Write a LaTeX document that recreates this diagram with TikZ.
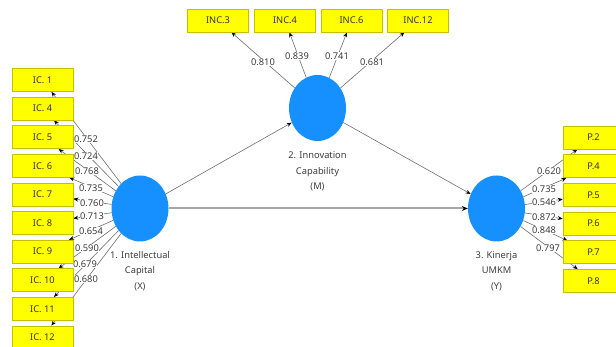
\documentclass[tikz,border=0pt]{standalone}
\usepackage{fontspec}
\setmainfont{Noto Sans}
\usetikzlibrary{shapes.geometric,arrows.meta}
\pgfdeclarelayer{bg}
\pgfdeclarelayer{lab}
\pgfsetlayers{bg,lab,main}
\definecolor{indfill}{RGB}{255,255,0}
\definecolor{inddraw}{RGB}{200,190,0}
\definecolor{lvfill}{RGB}{22,143,255}
\definecolor{txt}{RGB}{60,60,60}
\definecolor{lin}{RGB}{110,110,110}
\tikzset{
  ind/.style={rectangle, fill=indfill, draw=inddraw, line width=0.6pt,
    minimum width=61pt, minimum height=23pt, inner sep=0pt,
    font=\fontsize{9.3}{11}\selectfont, text=black!80!olive},
  lv/.style={ellipse, fill=lvfill, minimum width=57pt, minimum height=66pt, inner sep=0pt},
  lvcap/.style={align=center, font=\fontsize{9.3}{15.5}\selectfont, text=txt, inner sep=0pt},
  lbl/.style={fill=white, inner sep=0.5pt, font=\fontsize{9.3}{11}\selectfont, text=txt},
  conn/.style={draw=lin, line width=0.6pt, -{Stealth[length=5pt,width=4pt,color=black]}},
  thickconn/.style={draw=black!35, line width=2pt, -{Stealth[length=6pt,width=5pt,color=black]}}
}
\begin{document}
\begin{tikzpicture}[x=1pt,y=-1pt]
\useasboundingbox (0,0) rectangle (616,347);
\clip (0,0) rectangle (616,347);
% latent variables
\node[lv] (ic) at (140,208.5) {};
\node[lv] (inno) at (317.5,108) {};
\node[lv] (kin) at (496.5,208.5) {};
\node[lvcap] at (140,271) {1. Intellectual\\Capital\\(X)};
\node[lvcap] at (317.5,171.5) {2. Innovation\\Capability\\(M)};
\node[lvcap] at (496.5,271) {3. Kinerja\\UMKM\\(Y)};
% left indicators
\node[ind] (i1) at (42.5,80) {IC. 1};
\node[ind] (i4) at (42.5,108.6) {IC. 4};
\node[ind] (i5) at (42.5,137.2) {IC. 5};
\node[ind] (i6) at (42.5,165.8) {IC. 6};
\node[ind] (i7) at (42.5,194.4) {IC. 7};
\node[ind] (i8) at (42.5,223) {IC. 8};
\node[ind] (i9) at (42.5,251.6) {IC. 9};
\node[ind] (i10) at (42.5,280.2) {IC. 10};
\node[ind] (i11) at (42.5,308.8) {IC. 11};
\node[ind] (i12) at (42.5,337.4) {IC. 12};
% top indicators
\node[ind] (n3) at (218,20.5) {INC.3};
\node[ind] (n4) at (285,20.5) {INC.4};
\node[ind] (n6) at (351.5,20.5) {INC.6};
\node[ind] (n12) at (418,20.5) {INC.12};
% right indicators
\node[ind] (p2) at (593.5,137.5) {P.2};
\node[ind] (p4) at (593.5,166.2) {P.4};
\node[ind] (p5) at (593.5,194.9) {P.5};
\node[ind] (p6) at (593.5,223.6) {P.6};
\node[ind] (p7) at (593.5,252.3) {P.7};
\node[ind] (p8) at (593.5,281) {P.8};
\begin{pgfonlayer}{bg}
  \foreach \t in {i1,i4,i5,i6,i7,i8,i9,i10,i11,i12} \draw[conn] (ic) -- (\t);
  \foreach \t in {n3,n4,n6,n12} \draw[conn] (inno) -- (\t);
  \foreach \t in {p2,p4,p5,p6,p7,p8} \draw[conn] (kin) -- (\t);
  \draw[conn] (ic) -- (inno);
  \draw[conn] (inno) -- (kin);
  \draw[thickconn] (ic) -- (kin);
\end{pgfonlayer}
\begin{pgfonlayer}{lab}
  \node[lbl] at (86,139) {0.752};
  \node[lbl] at (86,156) {0.724};
  \node[lbl] at (87,171) {0.768};
  \node[lbl] at (91,188) {0.735};
  \node[lbl] at (92,203) {0.760};
  \node[lbl] at (92,216) {0.713};
  \node[lbl] at (91,231) {0.654};
  \node[lbl] at (87,248) {0.590};
  \node[lbl] at (85,264) {0.679};
  \node[lbl] at (86,279) {0.680};
  \node[lbl] at (263,62) {0.810};
  \node[lbl] at (297,56) {0.839};
  \node[lbl] at (337,56) {0.741};
  \node[lbl] at (372,62) {0.681};
  \node[lbl] at (549,171) {0.620};
  \node[lbl] at (544,189) {0.735};
  \node[lbl] at (544,202) {0.546};
  \node[lbl] at (544,217) {0.872};
  \node[lbl] at (544,230) {0.848};
  \node[lbl] at (548,248) {0.797};
\end{pgfonlayer}
\end{tikzpicture}
\end{document}
